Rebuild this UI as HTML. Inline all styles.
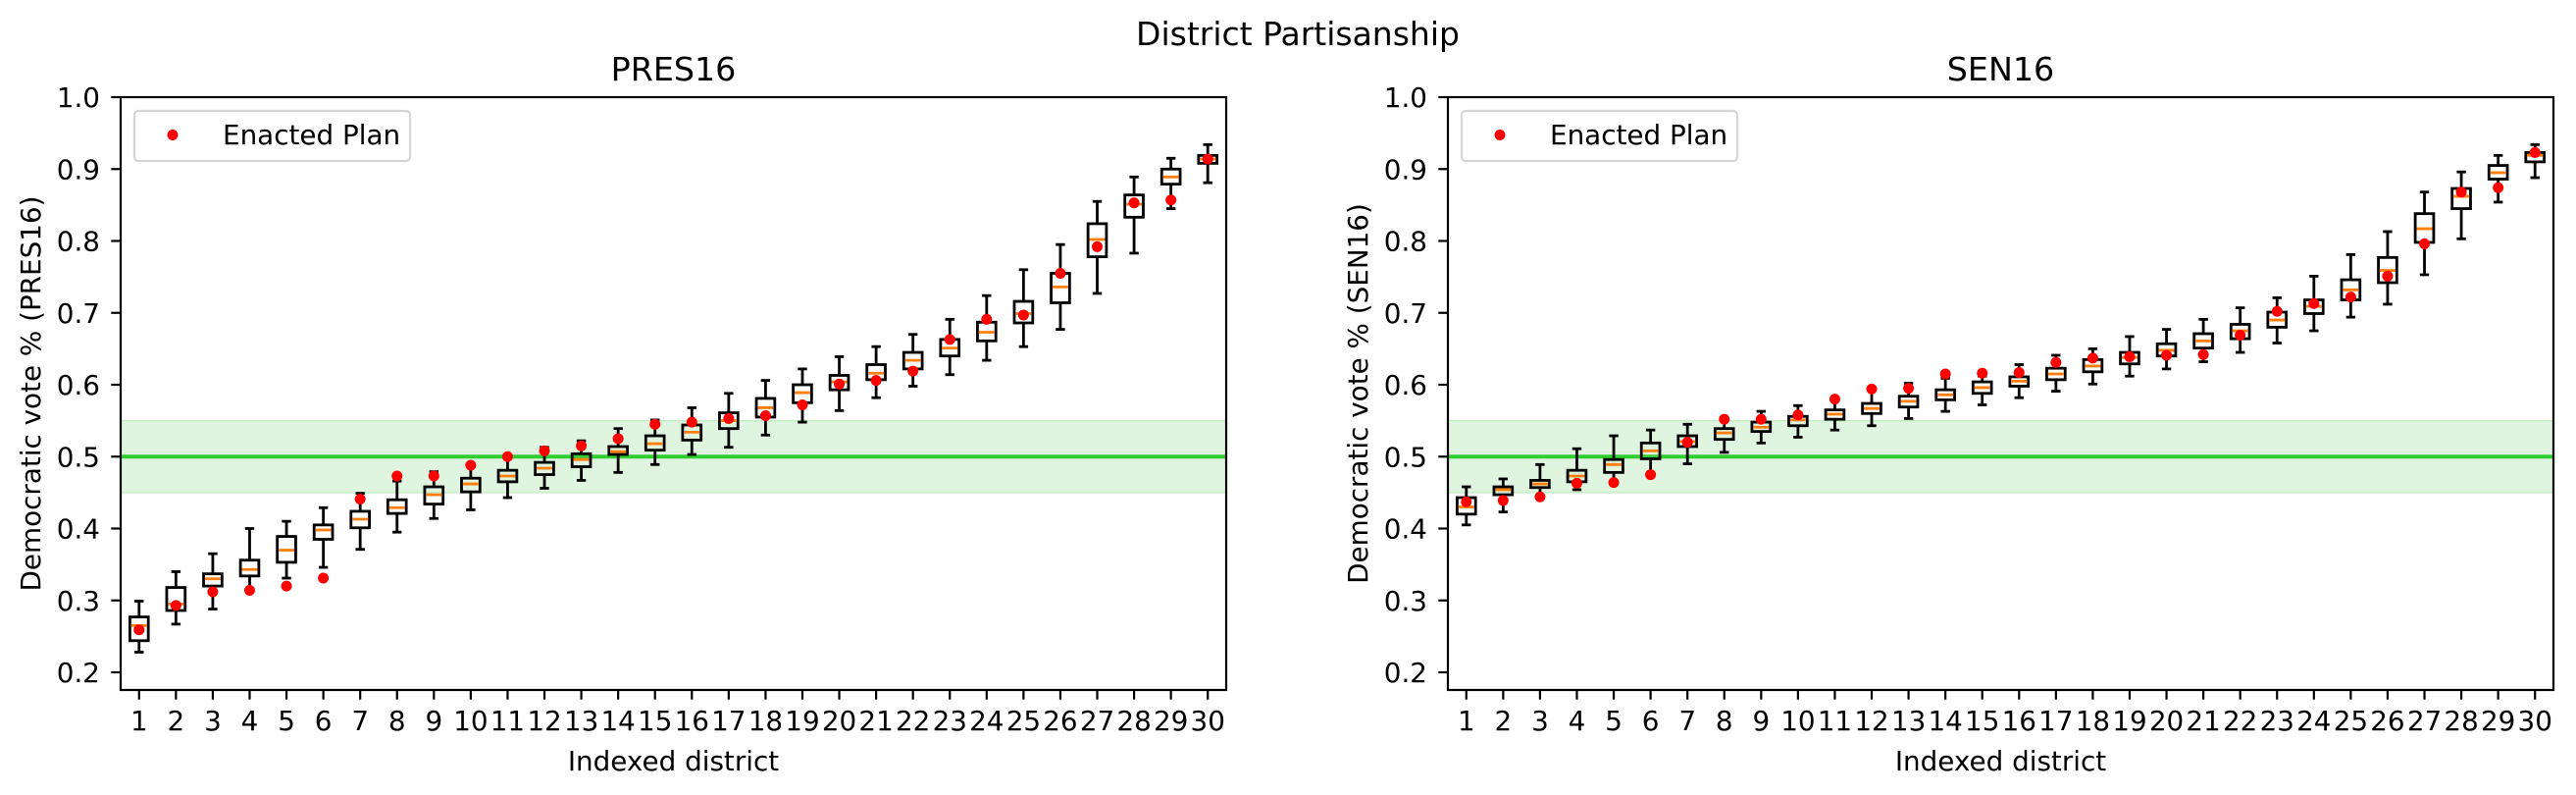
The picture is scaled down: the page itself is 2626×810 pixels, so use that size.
<!DOCTYPE html>
<html><head><meta charset="utf-8">
<style>
html,body{margin:0;padding:0;background:#fff;}
svg{display:block;font-family:"DejaVu Sans","Liberation Sans",sans-serif;}
</style></head>
<body>
<svg id="fig" width="2626" height="810" viewBox="0 0 2626 810" xmlns="http://www.w3.org/2000/svg">
<rect width="2626" height="810" fill="#fff"/>
<text x="1323" y="46" font-size="33" text-anchor="middle">District Partisanship</text>
</svg>
<script>
const districts = [1,2,3,4,5,6,7,8,9,10,11,12,13,14,15,16,17,18,19,20,21,22,23,24,25,26,27,28,29,30];
const yTicks = [0.2,0.3,0.4,0.5,0.6,0.7,0.8,0.9,1.0];
const yTickLabels = ["0.2","0.3","0.4","0.5","0.6","0.7","0.8","0.9","1.0"];

const presLo = [0.228,0.267,0.288,0.314,0.331,0.346,0.371,0.395,0.414,0.426,0.443,0.456,0.467,0.478,0.489,0.503,0.513,0.530,0.548,0.564,0.582,0.598,0.614,0.634,0.653,0.677,0.727,0.783,0.845,0.881];
const presQ1 = [0.244,0.286,0.320,0.334,0.353,0.385,0.401,0.421,0.434,0.451,0.465,0.475,0.486,0.503,0.509,0.523,0.539,0.555,0.575,0.593,0.607,0.622,0.640,0.661,0.686,0.714,0.778,0.833,0.879,0.908];
const presMed = [0.265,0.295,0.330,0.343,0.370,0.398,0.413,0.429,0.447,0.462,0.473,0.484,0.496,0.507,0.518,0.534,0.550,0.568,0.589,0.604,0.616,0.634,0.651,0.673,0.699,0.736,0.802,0.851,0.889,0.914];
const presQ3 = [0.277,0.318,0.337,0.356,0.389,0.405,0.424,0.440,0.458,0.470,0.481,0.492,0.504,0.514,0.529,0.544,0.561,0.581,0.600,0.613,0.628,0.645,0.663,0.687,0.716,0.755,0.824,0.864,0.900,0.919];
const presHi = [0.299,0.340,0.365,0.400,0.410,0.429,0.449,0.466,0.479,0.489,0.499,0.513,0.522,0.539,0.551,0.568,0.588,0.606,0.622,0.639,0.653,0.670,0.691,0.724,0.760,0.795,0.855,0.889,0.915,0.934];
const presEnacted = [0.259,0.293,0.312,0.314,0.320,0.331,0.441,0.473,0.473,0.488,0.500,0.508,0.515,0.525,0.545,0.548,0.553,0.557,0.572,0.601,0.606,0.619,0.663,0.691,0.697,0.755,0.792,0.853,0.857,0.914];

const senLo = [0.405,0.423,0.446,0.454,0.462,0.472,0.490,0.506,0.519,0.527,0.537,0.543,0.553,0.563,0.572,0.582,0.591,0.601,0.612,0.622,0.632,0.645,0.658,0.675,0.694,0.712,0.753,0.803,0.854,0.888];
const senQ1 = [0.420,0.447,0.457,0.465,0.478,0.497,0.514,0.524,0.535,0.543,0.552,0.560,0.569,0.579,0.588,0.598,0.607,0.618,0.629,0.640,0.651,0.664,0.680,0.699,0.718,0.742,0.798,0.845,0.886,0.910];
const senMed = [0.430,0.454,0.462,0.473,0.489,0.508,0.521,0.533,0.541,0.551,0.559,0.567,0.577,0.586,0.596,0.605,0.615,0.626,0.638,0.648,0.661,0.675,0.690,0.709,0.732,0.759,0.817,0.862,0.895,0.919];
const senQ3 = [0.443,0.458,0.467,0.481,0.496,0.519,0.529,0.539,0.548,0.556,0.565,0.574,0.584,0.593,0.604,0.611,0.623,0.635,0.645,0.657,0.671,0.684,0.701,0.718,0.746,0.777,0.838,0.873,0.905,0.923];
const senHi = [0.458,0.469,0.489,0.511,0.529,0.537,0.545,0.554,0.563,0.571,0.580,0.594,0.602,0.609,0.612,0.628,0.641,0.650,0.667,0.677,0.691,0.707,0.721,0.751,0.781,0.813,0.868,0.896,0.919,0.934];
const senEnacted = [0.437,0.439,0.444,0.463,0.464,0.475,0.520,0.552,0.552,0.558,0.580,0.594,0.595,0.615,0.616,0.617,0.631,0.637,0.639,0.641,0.642,0.669,0.702,0.713,0.722,0.751,0.796,0.868,0.874,0.923];

const NS = "http://www.w3.org/2000/svg";
const fig = document.getElementById('fig');
const Y_TOP = 99, Y_BOT = 703, V_MAX = 1.0, PX_PER = 732.5;
function yScale(v){ return Y_TOP + (V_MAX - v) * PX_PER; }
function mk(tag, attrs, parent){
  const e = document.createElementNS(NS, tag);
  for (const k in attrs) e.setAttribute(k, attrs[k]);
  parent.appendChild(e);
  return e;
}

function panel(x0, title, ylabel, lo, q1, med, q3, hi, en, key){
  const W = 1127;
  const step = W / districts.length;
  const xScale = d => x0 + (d - 0.5) * step;
  const g = mk('g', {}, fig);
  
  
  // band and line
  const band = mk('rect', {x:x0, y:yScale(0.55), width:W, height:yScale(0.45)-yScale(0.55), fill:'#dff5df', stroke:'#c6ecc6', 'stroke-width':1.5}, g);
  
  
  const ln = mk('line', {x1:x0, x2:x0+W, y1:yScale(0.5), y2:yScale(0.5), stroke:'#32cd32', 'stroke-width':4}, g);
  
  
  // boxes
  const bw = step * 0.5, cw = step * 0.25;
  districts.forEach((d, i) => {
    const cx = xScale(d);
    const bg = mk('g', {stroke:'#000', 'stroke-width':2.8, fill:'none'}, g);
    
    
    mk('line', {x1:cx, x2:cx, y1:yScale(hi[i]), y2:yScale(q3[i])}, bg);
    mk('line', {x1:cx, x2:cx, y1:yScale(q1[i]), y2:yScale(lo[i])}, bg);
    mk('line', {x1:cx-cw/2, x2:cx+cw/2, y1:yScale(hi[i]), y2:yScale(hi[i])}, bg);
    mk('line', {x1:cx-cw/2, x2:cx+cw/2, y1:yScale(lo[i]), y2:yScale(lo[i])}, bg);
    mk('rect', {x:cx-bw/2, y:yScale(q3[i]), width:bw, height:yScale(q1[i])-yScale(q3[i])}, bg);
    mk('line', {x1:cx-bw/2+1.4, x2:cx+bw/2-1.4, y1:yScale(med[i]), y2:yScale(med[i]), stroke:'#ff7f0e'}, bg);
  });
  districts.forEach((d, i) => {
    const c = mk('circle', {cx:xScale(d), cy:yScale(en[i]), r:5.5, fill:'#ff0000'}, g);
    
    
  });
  // frame
  const fr = mk('rect', {x:x0, y:Y_TOP, width:W, height:Y_BOT-Y_TOP, fill:'none', stroke:'#000', 'stroke-width':2.2}, g);
  
  
  // y ticks
  yTicks.forEach((t, i) => {
    const y = yScale(t);
    mk('line', {x1:x0-9.7, x2:x0, y1:y, y2:y, stroke:'#000', 'stroke-width':2.2}, g);
    const tx = mk('text', {x:x0-21, y:y+10, 'font-size':27.8, 'text-anchor':'end'}, g);
    tx.textContent = yTickLabels[i];
    
    
  });
  // x ticks
  districts.forEach(d => {
    const x = xScale(d);
    mk('line', {x1:x, x2:x, y1:Y_BOT, y2:Y_BOT+9.7, stroke:'#000', 'stroke-width':2.2}, g);
    const tx = mk('text', {x:x, y:744, 'font-size':27.8, 'text-anchor':'middle'}, g);
    tx.textContent = String(d);
    
    
  });
  const xl = mk('text', {x:x0+W/2, y:785, 'font-size':27.8, 'text-anchor':'middle'}, g);
  xl.textContent = 'Indexed district';
  
  
  const yl = mk('text', {x:0, y:0, 'font-size':27.8, 'text-anchor':'middle', transform:'translate(' + (x0-82) + ',' + ((Y_TOP+Y_BOT)/2) + ') rotate(-90)'}, g);
  yl.textContent = ylabel;
  
  
  const tt = mk('text', {x:x0+W/2, y:82, 'font-size':33.3, 'text-anchor':'middle'}, g);
  tt.textContent = title;
  
  
  // legend
  const lg = mk('g', {}, g);
  
  
  mk('rect', {x:x0+14, y:113, width:281, height:51, rx:4, fill:'#fff', stroke:'#d6d6d6', 'stroke-width':2.2}, lg);
  mk('circle', {cx:x0+53, cy:137.5, r:5.5, fill:'#ff0000'}, lg);
  const lt = mk('text', {x:x0+104, y:147, 'font-size':27.8}, lg);
  lt.textContent = 'Enacted Plan';
  
  
}
panel(123, 'PRES16', 'Democratic vote % (PRES16)', presLo, presQ1, presMed, presQ3, presHi, presEnacted, 'pres16');
panel(1476, 'SEN16', 'Democratic vote % (SEN16)', senLo, senQ1, senMed, senQ3, senHi, senEnacted, 'sen16');
</script>
</body></html>
